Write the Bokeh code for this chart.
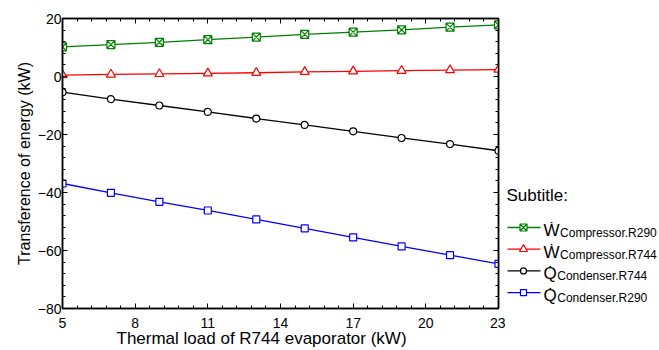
from bokeh.plotting import figure
from bokeh.models import Range1d, SingleIntervalTicker, FixedTicker, LinearAxis, Title, CustomJSTickFormatter
from bokeh.layouts import row
from bokeh.core.properties import value
from bokeh.embed import file_html
from bokeh.resources import INLINE

# ---- data ----
thermal_load = [5, 7, 9, 11, 13, 15, 17, 19, 21, 23]
w_comp_r290 = [10.2, 11.0, 11.8, 12.7, 13.6, 14.5, 15.3, 16.1, 17.0, 17.8]
w_comp_r744 = [0.5, 0.7, 0.9, 1.1, 1.3, 1.6, 1.8, 2.0, 2.2, 2.4]
q_cond_r744 = [-5.4, -7.8, -10.0, -12.2, -14.5, -16.7, -18.9, -21.2, -23.3, -25.6]
q_cond_r290 = [-36.9, -40.1, -43.2, -46.2, -49.3, -52.4, -55.5, -58.6, -61.6, -64.6]

x_tick_values = [5, 8, 11, 14, 17, 20, 23]

series_main = ["\u1E86", "\u1E86", "Q\u0307", "Q\u0307"]
series_sub = ["Compressor.R290", "Compressor.R744", "Condenser.R744", "Condenser.R290"]
legend_title = "Subtitle:"
x_label = "Thermal load of R744 evaporator (kW)"
y_label = "Transference of energy (kW)"

FONT = "Liberation Sans"
colors = ["#008000", "#ff0000", "#000000", "#0000ff"]
markers = ["square_x", "triangle", "circle", "square"]
msizes = [8, 9, 7, 7]
ys = [w_comp_r290, w_comp_r744, q_cond_r744, q_cond_r290]

# frame geometry (page pixels)
FL, FR, FT, FB = 62, 498, 18, 308
X0, X1, Y0, Y1 = 5, 23, -80, 20

p = figure(width=505, height=350, x_range=Range1d(X0, X1), y_range=Range1d(Y0, Y1),
           output_backend="svg", toolbar_location=None,
           min_border_left=FL, min_border_right=7, min_border_top=FT, min_border_bottom=350 - FB)
p.grid.visible = False
p.outline_line_color = "black"
p.outline_line_width = 1.5
p.background_fill_color = "white"
p.border_fill_color = "white"

step = (x_tick_values[1] - x_tick_values[0]) / 5
minor_x = [x_tick_values[0] + step * k for k in range(int(round((x_tick_values[-1] - x_tick_values[0]) / step)) + 1)]

def make_xticker():
    return FixedTicker(ticks=x_tick_values, minor_ticks=minor_x)

def make_yticker():
    return SingleIntervalTicker(interval=20, num_minor_ticks=5)

p.xaxis.ticker = make_xticker()
p.yaxis.ticker = make_yticker()

def style_axis(ax, labels=True):
    ax.axis_line_color = "black"
    ax.axis_line_width = 1.5
    ax.major_tick_in = 5
    ax.major_tick_out = 0
    ax.minor_tick_in = 3
    ax.minor_tick_out = 0
    ax.major_tick_line_color = "black"
    ax.minor_tick_line_color = "black"
    ax.major_label_text_font = FONT
    ax.major_label_text_font_size = "14px"
    ax.major_label_text_color = "black"
    ax.axis_label_text_font = FONT
    ax.axis_label_text_font_size = "17px"
    ax.axis_label_text_font_style = "normal"
    ax.axis_label_text_color = "black"
    if not labels:
        ax.formatter = CustomJSTickFormatter(code="return ''")
        ax.major_label_standoff = 0

style_axis(p.xaxis[0])
style_axis(p.yaxis[0])
p.yaxis.axis_label = y_label
p.yaxis.axis_label_text_font_size = "16px"
p.xaxis.major_label_standoff = 9
p.yaxis.major_label_standoff = 1
p.yaxis.axis_label_standoff = 2

top_ax = LinearAxis(ticker=make_xticker())
right_ax = LinearAxis(ticker=make_yticker())
style_axis(top_ax, labels=False)
style_axis(right_ax, labels=False)
p.add_layout(top_ax, "above")
p.add_layout(right_ax, "right")

# x-axis title, slightly left of centre as in the reference
xt = Title(text=x_label, align="left", offset=54, text_font=FONT, text_font_size="17px",
           text_font_style="normal", text_color="black", standoff=-8)
p.add_layout(xt, "below")

for yv, c, m, s in zip(ys, colors, markers, msizes):
    p.line(thermal_load, yv, line_color=c, line_width=1.3)
    p.scatter(thermal_load, yv, marker=m, size=s, line_color=c, fill_color="white", line_width=1.2)

# ---- legend panel (its frame is aligned with the main frame: page y 18..308) ----
leg = figure(width=154, height=350, x_range=Range1d(0, 154), y_range=Range1d(FB, FT),
             output_backend="svg", toolbar_location=None,
             min_border_left=0, min_border_right=0, min_border_top=FT, min_border_bottom=350 - FB,
             x_axis_location=None, y_axis_location=None)
leg.grid.visible = False
leg.outline_line_color = None
leg.background_fill_color = "white"
leg.border_fill_color = "white"

leg.text([1], [195], text=[legend_title], text_font=value(FONT), text_font_size="17px",
         text_baseline="alphabetic", text_align="left", text_color="black")

row_y0 = 227
row_dy = 21.7
for i in range(4):
    yy = row_y0 + i * row_dy
    leg.line([2, 35], [yy, yy], line_color=colors[i], line_width=1.3)
    leg.scatter([18], [yy], marker=markers[i], size=msizes[i] - 1, line_color=colors[i],
                fill_color="white", line_width=1.2)
    leg.text([38], [yy + 3], text=[series_main[i]], text_font=value(FONT), text_font_size="17px",
             text_baseline="alphabetic", text_align="left", text_color="black")
    w = 0.944 * 17 if series_main[i].startswith("\u1E86") else 0.778 * 17
    leg.text([38 + w + 0.5], [yy + 5.5], text=[series_sub[i]], text_font=value(FONT),
             text_font_size="12px", text_baseline="alphabetic", text_align="left",
             text_color="black")

layout = row(p, leg, spacing=0)
open("out.html", "w").write(file_html(layout, INLINE))
